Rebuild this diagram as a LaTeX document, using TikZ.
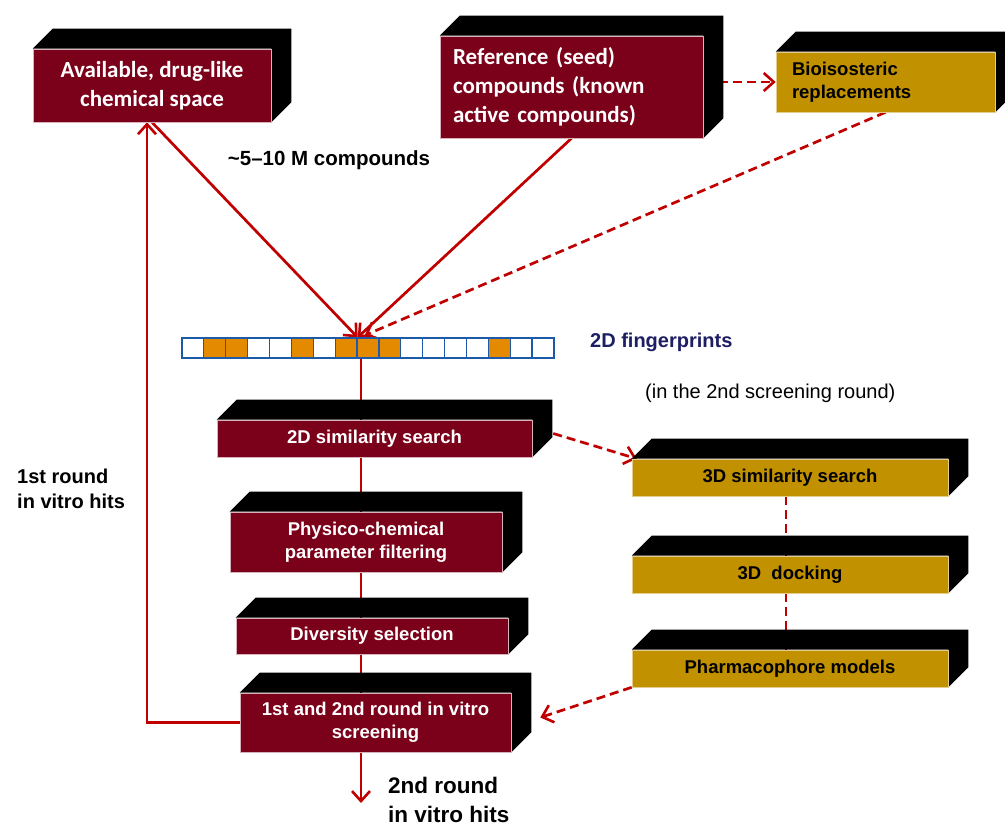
\documentclass[tikz,border=0pt]{standalone}
\usepackage{fontspec}
\setmainfont{Liberation Sans}
\newfontfamily\calibrifont{Carlito}
\usetikzlibrary{arrows.meta,calc,backgrounds}

\definecolor{boxred}{RGB}{123,0,26}
\definecolor{boxgold}{RGB}{193,145,0}
\definecolor{linkred}{RGB}{192,0,0}
\definecolor{bitorange}{RGB}{228,138,0}
\definecolor{bitblue}{RGB}{30,90,170}
\definecolor{labelnavy}{RGB}{30,30,100}

\tikzset{
  redbox/.style={fill=boxred, draw=white!70!boxred, line width=0.6pt, text=white,
    inner sep=0pt, align=center, font=\bfseries\fontsize{18.5}{23}\selectfont},
  goldbox/.style={fill=boxgold, draw=white!55!boxgold, line width=0.6pt, text=black,
    inner sep=0pt, align=center, font=\bfseries\fontsize{18.5}{23}\selectfont},
  seedfont/.style={font=\calibrifont\bfseries\fontsize{23}{29}\selectfont},
  bit/.style={draw=bitblue, line width=1.2pt, minimum width=21.88pt, minimum height=20pt, inner sep=0pt},
  flow/.style={draw=linkred, line width=2.7pt},
  dflow/.style={flow, dash pattern=on 9pt off 5pt},
  barb/.style={-{Straight Barb[length=10pt,width=18pt,line width=2.6pt]}},
  note/.style={font=\bfseries\fontsize{20}{25}\selectfont, inner sep=0pt, align=left}
}

\begin{document}
\begin{tikzpicture}[x=1pt,y=-1pt]
    \useasboundingbox (0,0) rectangle (1005,827);

    % Sources
    \node[redbox, seedfont, minimum width=238pt, minimum height=73pt] (avail) at (152,85.5) {Available, drug-like\\chemical space};
    \node[redbox, seedfont, minimum height=102pt, text width=237pt, inner xsep=13pt, align=left] (seed) at (571.5,87) {Reference (seed)\\compounds (known\\active compounds)};
    \node[goldbox, minimum height=60pt, text width=187pt, inner xsep=16pt, align=left] (bioiso) at (885.5,82) {Bioisosteric\\replacements};

    % Fingerprint
    \foreach \i/\c in {0/white,1/bitorange,2/bitorange,3/white,4/white,5/bitorange,6/white,7/bitorange,8/bitorange,
                       9/bitorange,10/white,11/white,12/white,13/white,14/bitorange,15/white,16/white}
        \node[bit, fill=\c] (fp\i) at ({182+21.88*(\i+0.5)},348) {};

    % Main pipeline
    \node[redbox, minimum width=315pt, minimum height=37pt] (sim2d) at (374.5,438.5) {2D similarity search};
    \node[redbox, minimum width=272pt, minimum height=60pt] (physchem) at (366,542) {Physico-chemical\\parameter filtering};
    \node[redbox, minimum width=272pt, minimum height=36pt] (divsel) at (372,636) {Diversity selection};
    \node[redbox, minimum width=271pt, minimum height=59pt] (screen) at (375.5,722.5) {1st and 2nd round in vitro\\screening};

    % 3D branch
    \node[goldbox, minimum width=316pt, minimum height=37pt] (sim3d) at (790,477.5) {3D similarity search};
    \node[goldbox, minimum width=316pt, minimum height=37pt] (dock) at (790,574.5) {3D\ \ docking};
    \node[goldbox, minimum width=316pt, minimum height=37pt] (pharm) at (790,668.5) {Pharmacophore models};

    % Labels
    \node[note, anchor=base, font=\bfseries\fontsize{20.5}{25}\selectfont] (mlabel) at (329,165) {\textasciitilde5–10 M compounds};
    \node[note, anchor=base west, text=labelnavy] (fplabel) at (590,347) {2D fingerprints};
    \node[note, anchor=base west, font=\fontsize{20}{25}\selectfont] (roundlabel) at (645,398) {(in the 2nd screening round)};
    \node[note, anchor=west] (hits1) at (17,488.5) {1st round\\in vitro hits};
    \node[note, anchor=west, font=\bfseries\fontsize{22.5}{28.5}\selectfont] (hits2) at (388,800) {2nd round\\in vitro hits};

    \coordinate (spine) at (361,0);
    \coordinate (hitsend) at (361,803);

    \begin{scope}[on background layer]
        % Connectors
        \draw[flow, barb] (avail.south) -- (fp7.north east);
        \draw[flow, barb] (seed.south) -- (fp7.north east);
        \draw[dflow, barb] (bioiso.south) -- ($(fp7.north east)+(7,-2)$);
        \draw[dflow, barb] ($(seed.east |- bioiso.west)+(16,0)$) -- (bioiso.west);

        \draw[flow] (spine |- fp7.south) -- (spine |- sim2d.north);
        \draw[flow] (spine |- sim2d.south) -- (spine |- physchem.north);
        \draw[flow] (spine |- physchem.south) -- (spine |- divsel.north);
        \draw[flow] (spine |- divsel.south) -- (spine |- screen.north);
        \draw[flow, barb] (spine |- screen.south) -- (hitsend);
        \draw[flow, barb] (screen.west) -| ($(avail.south)+(-5,0)$);

        \draw[dflow, barb] ($(sim2d.east)+(21,-5)$) -- ($(sim3d.north west)+(5,0)$);
        \draw[dflow] ($(sim3d.south)+(-4,0)$) -- ($(dock.north)+(-4,0)$);
        \draw[dflow] ($(dock.south)+(-4,0)$) -- ($(pharm.north)+(-4,0)$);
        \draw[dflow, barb] (pharm.south west) -- ($(screen.east)+(29,-5)$);

        % Extrusions
        \foreach \n in {avail,seed,bioiso,sim2d,physchem,divsel,screen,sim3d,dock,pharm}
            \fill[black] (\n.north west) -- ++(20,-20) -| ($(\n.south east)+(20,-20)$) -- (\n.south east) -- (\n.north east) -- cycle;
    \end{scope}

\end{tikzpicture}
\end{document}
